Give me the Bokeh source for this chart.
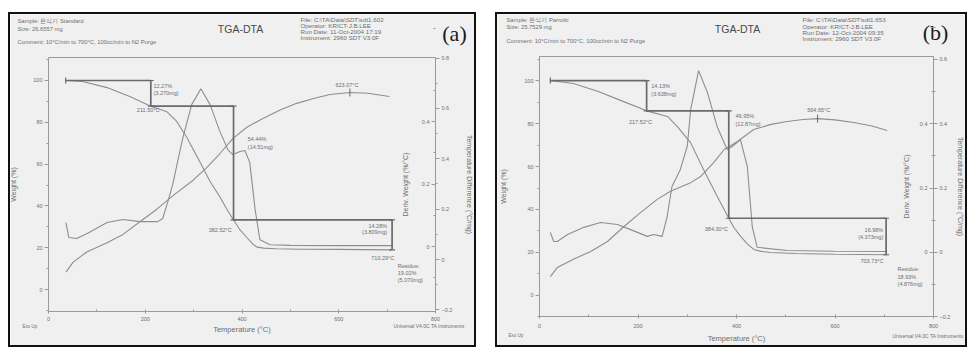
from bokeh.plotting import figure
from bokeh.models import Range1d, LinearAxis, FixedTicker, Spacer
from bokeh.layouts import row, column
from bokeh.embed import file_html
from bokeh.resources import INLINE
from bokeh.core.properties import value

FONT = "Liberation Sans"
SERIF = "Liberation Serif"
CURVE = "#8e8e8e"
ANNO = "#6a6a6a"
AXC = "#9a9a9a"
TXT = "#6e6e6e"
BG = "#f0f0f0"

# ---------------- panel (a) data ----------------
a_tga_T = [36, 71, 121, 168, 211.5, 245, 265, 286, 313, 334, 355, 369, 382.5, 396, 410, 422, 431, 445, 470, 520, 600, 650, 710]
a_tga_W = [100.0, 99.5, 96.6, 92.3, 87.7, 85.0, 80.4, 72.7, 61.0, 51.7, 44.0, 38.3, 33.3, 28.5, 24.9, 21.8, 20.3, 19.8, 19.5, 19.3, 19.2, 19.1, 19.0]
a_dtg_T = [36, 42, 58, 80, 121, 154, 189, 226, 236, 246, 257, 268, 278, 296, 315, 334, 354, 371, 381, 396, 406, 416, 427, 437, 458, 500, 600, 710]
a_dtg_D = [0.077, 0.029, 0.026, 0.042, 0.077, 0.087, 0.080, 0.080, 0.090, 0.14, 0.20, 0.28, 0.35, 0.455, 0.506, 0.455, 0.37, 0.31, 0.295, 0.305, 0.308, 0.27, 0.12, 0.022, 0.006, 0.004, 0.003, 0.003]
a_dta_T = [36, 51, 79, 121, 154, 189, 224, 258, 299, 327, 354, 381, 410, 443, 480, 513, 550, 582, 623.07, 660, 705]
a_dta_D = [-0.05, -0.01, 0.03, 0.067, 0.10, 0.15, 0.20, 0.255, 0.315, 0.365, 0.42, 0.48, 0.525, 0.56, 0.595, 0.62, 0.64, 0.655, 0.663, 0.66, 0.647]
a_step_T = [35.5, 211.50, 382.52, 710.29]
a_step_W = [100.0, 87.73, 33.29, 19.01]
a_peak = (623.07, 0.663, "623.07°C", 617, 0.694)
a_left_txt = ["12.27%", "(3.270mg)", "54.44%", "(14.51mg)", "Residue:", "19.02%", "(5.070mg)"]
a_left_x = [217, 217, 412, 412, 722, 722, 722]
a_left_y = [97.6, 93.8, 71.8, 68.2, 11.5, 8.1, 4.8]
a_ctr_txt = ["211.50°C", "382.52°C", "710.29°C"]
a_ctr_x = [206, 355, 691]
a_ctr_y = [86.1, 28.7, 15.1]
a_rgt_txt = ["14.28%", "(3.809mg)"]
a_rgt_x = [700, 700]
a_rgt_y = [30.6, 27.3]
a_header = ["Sample: 은식기 Standard", "Size: 26.6557 mg",
            "Comment: 10°C/min to 700°C, 100cc/min to N2 Purge"]
a_info = ["File: C:\\TA\\Data\\SDT\\sdt1.602", "Operator: KRICT-J.B.LEE",
          "Run Date: 11-Oct-2004 17:19", "Instrument: 2960 SDT V3.0F"]
a_w_range = (-10.5, 111.0)
a_d_range = (-0.208, 0.606)
a_t_range = (-0.206, 0.802)
a_temp_ticks = [-0.2, 0.0, 0.2, 0.4, 0.6, 0.8]
a_deriv_ticks = [0.0, 0.2, 0.4]

# ---------------- panel (b) data ----------------
b_tga_T = [22, 69, 118, 171, 217.5, 260, 280, 307, 333, 361, 384.3, 395, 408, 422, 435, 450, 469, 520, 600, 704]
b_tga_W = [100.0, 98.6, 95.0, 90.2, 85.9, 83.3, 78.6, 71.0, 58.6, 46.0, 35.9, 31.5, 27.6, 24.0, 21.4, 20.5, 20.0, 19.5, 19.2, 18.95]
b_dtg_T = [22, 29, 36, 57, 90, 124, 158, 185, 219, 232, 249, 259, 269, 286, 300, 307, 323, 341, 361, 381, 392, 408, 422, 432, 442, 503, 600, 706]
b_dtg_D = [0.062, 0.034, 0.034, 0.056, 0.078, 0.093, 0.087, 0.071, 0.050, 0.056, 0.050, 0.11, 0.205, 0.258, 0.33, 0.444, 0.565, 0.497, 0.39, 0.32, 0.33, 0.351, 0.267, 0.08, 0.016, 0.006, 0.004, 0.003]
b_dta_T = [22, 36, 70, 104, 138, 171, 205, 239, 266, 307, 327, 354, 375, 402, 435, 470, 503, 535, 564.65, 600, 638, 675, 706]
b_dta_D = [-0.075, -0.047, -0.02, 0.003, 0.034, 0.08, 0.124, 0.165, 0.19, 0.217, 0.236, 0.28, 0.32, 0.345, 0.382, 0.398, 0.407, 0.413, 0.416, 0.412, 0.404, 0.393, 0.379]
b_step_T = [22, 217.52, 384.30, 703.73]
b_step_W = [100.0, 85.87, 35.92, 18.94]
b_peak = (564.65, 0.416, "564.65°C", 567, 0.442)
b_left_txt = ["14.13%", "(3.638mg)", "49.95%", "(12.87mg)", "Residue:", "18.93%", "(4.876mg)"]
b_left_x = [227, 227, 398, 398, 727, 727, 727]
b_left_y = [97.3, 93.8, 83.4, 80.0, 12.1, 8.7, 5.1]
b_ctr_txt = ["217.52°C", "384.30°C", "703.73°C"]
b_ctr_x = [205, 359, 675]
b_ctr_y = [80.5, 30.7, 16.0]
b_rgt_txt = ["16.98%", "(4.373mg)"]
b_rgt_x = [698, 698]
b_rgt_y = [30.4, 27.1]
b_header = ["Sample: 은식기 Parrolic", "Size: 25.7529 mg",
            "Comment: 10°C/min to 700°C, 100cc/min to N2 Purge"]
b_info = ["File: C:\\TA\\Data\\SDT\\sdt1.653", "Operator: KRICT-J.B.LEE",
          "Run Date: 12-Oct-2004 09:35", "Instrument: 2960 SDT V3.0F"]
b_w_range = (-9.8, 111.2)
b_d_range = (-0.199, 0.609)
b_t_range = (-0.199, 0.609)
b_temp_ticks = [-0.2, 0.0, 0.2, 0.4, 0.6]
b_deriv_ticks = [0.0, 0.2, 0.4]

x_ticks = [0, 200, 400, 600, 800]
x_minor = [100, 300, 500, 700]
w_ticks = [0, 20, 40, 60, 80, 100]
w_minor = [-10, 10, 30, 50, 70, 90, 110]
d_minor = [-0.1, 0.1, 0.3, 0.5, 0.7]


def style_axis(ax, label, ticks, minor, std, lstd, tout=4, tin=0):
    ax.ticker = FixedTicker(ticks=ticks, minor_ticks=minor)
    ax.axis_label = label
    ax.axis_label_text_font = FONT
    ax.axis_label_text_font_size = "7px"
    ax.axis_label_text_font_style = "normal"
    ax.axis_label_text_color = TXT
    ax.axis_label_standoff = std
    ax.major_label_text_font = FONT
    ax.major_label_text_font_size = "5.5px"
    ax.major_label_text_color = TXT
    ax.major_label_standoff = lstd
    ax.axis_line_color = AXC
    ax.major_tick_line_color = AXC
    ax.minor_tick_line_color = AXC
    ax.major_tick_out = tout
    ax.major_tick_in = tin
    ax.minor_tick_out = max(tout - 2, 0)
    ax.minor_tick_in = tin


def build(fig_box, plot_box, wr, dr, tr, tga_T, tga_W, dtg_T, dtg_D, dta_T, dta_D,
          step_T, step_W, peak, lt, lx, ly, ct, cx, cy, rt, rx, ry,
          header, info, temp_ticks, deriv_ticks, tag, pos, stds):
    fx0, fy0, fw, fh = fig_box
    L, R, Tp, B = plot_box
    sx = (R - L) / 800.0

    def ext(r):
        s = (B - Tp) / (r[1] - r[0])
        return Range1d(r[0] - (fy0 + fh - B) / s, r[1] + (Tp - fy0) / s)

    sy = (B - Tp) / (wr[1] - wr[0])

    def X(px):
        return (px - L) / sx

    def Y(py):
        return wr[1] - (py - Tp) / sy

    p = figure(width=fw, height=fh,
               x_range=Range1d((fx0 - L) / sx, (fx0 + fw - L) / sx), y_range=ext(wr),
               x_axis_type=None, y_axis_type=None,
               output_backend="svg", toolbar_location=None,
               min_border_left=0, min_border_right=0, min_border_top=0, min_border_bottom=0,
               background_fill_color=BG, border_fill_color=BG, outline_line_color=None)
    p.grid.visible = False
    p.extra_y_ranges = {"deriv": ext(dr), "temp": ext(tr)}

    xax = LinearAxis(fixed_location=wr[0], bounds=(0, 800))
    style_axis(xax, "Temperature (°C)", x_ticks, x_minor, stds[0], stds[1], tout=2, tin=2)
    xax.axis_label_text_font_size = "7.5px"
    p.add_layout(xax, "below")

    top = LinearAxis(fixed_location=wr[1], bounds=(0, 800), ticker=FixedTicker(ticks=[]),
                     axis_line_color=AXC, major_label_text_font_size="0px")
    p.add_layout(top, "above")

    wax = LinearAxis(fixed_location=0, bounds=wr)
    style_axis(wax, "Weight (%)", w_ticks, w_minor, stds[2], 2)
    p.add_layout(wax, "left")

    dax = LinearAxis(y_range_name="deriv", fixed_location=800, bounds=dr)
    style_axis(dax, "Deriv. Weight (%/°C)", deriv_ticks, d_minor, stds[3], 2)
    p.add_layout(dax, "left")

    tax = LinearAxis(y_range_name="temp", fixed_location=800, bounds=tr)
    style_axis(tax, "Temperature Difference (°C/mg)", temp_ticks, d_minor, stds[4], 2)
    p.add_layout(tax, "right")

    p.line(tga_T, tga_W, color=CURVE, line_width=1.1)
    p.line(dtg_T, dtg_D, y_range_name="deriv", color=CURVE, line_width=1.1)
    p.line(dta_T, dta_D, y_range_name="temp", color=CURVE, line_width=1.1)

    sxs = [step_T[0], step_T[1], step_T[1], step_T[2], step_T[2], step_T[3], step_T[3]]
    sys_ = [step_W[0], step_W[0], step_W[1], step_W[1], step_W[2], step_W[2], step_W[3]]
    p.line(sxs, sys_, color=ANNO, line_width=1.7)
    p.scatter(sxs[1:], sys_[1:], marker="dash", size=6, line_color=ANNO, line_width=1.2)
    p.scatter([sxs[0]], [sys_[0]], marker="dash", angle=1.5708, size=6, line_color=ANNO, line_width=1.2)

    p.scatter([peak[0]], [peak[1]], y_range_name="temp", marker="dash", angle=1.5708,
              size=8, line_color=ANNO, line_width=1)
    p.text([peak[3]], [peak[4]], text=[peak[2]], y_range_name="temp",
           text_font=value(FONT), text_font_size="5.5px", text_color=TXT,
           text_align="center", text_baseline="middle")

    kw = dict(text_font=value(FONT), text_font_size="5.5px", text_color=TXT, text_baseline="middle")
    p.text(lx, ly, text=lt, text_align="left", **kw)
    p.text(cx, cy, text=ct, text_align="center", **kw)
    p.text(rx, ry, text=rt, text_align="right", **kw)

    def lab(px, py, txt, size, color=TXT, align="left", font=FONT):
        p.text([X(px)], [Y(py)], text=[txt], text_font=value(font), text_font_size=size,
               text_color=color, text_align=align, text_baseline="middle")

    hx, hy = pos["head"]
    for t, yy in zip(header, hy):
        lab(hx, yy, t, "5.8px")
    ix, iy = pos["info"]
    for t, yy in zip(info, iy):
        lab(ix, yy, t, "6.2px")
    lab(pos["title"][0], pos["title"][1], "TGA-DTA", "10.5px", color="#4a4a4a", align="center")
    lab(pos["tag"][0], pos["tag"][1], tag, "22px", color="#1a1a1a", align="center", font=SERIF)
    lab(pos["exo"][0], pos["exo"][1], "Exo Up", "4.5px")
    lab(pos["univ"][0], pos["univ"][1], "Universal V4.0C TA Instruments", "5px")
    return p


pa = build((10, 15, 464, 331), (48, 435, 58, 312),
           a_w_range, a_d_range, a_t_range,
           a_tga_T, a_tga_W, a_dtg_T, a_dtg_D, a_dta_T, a_dta_D,
           a_step_T, a_step_W, a_peak,
           a_left_txt, a_left_x, a_left_y, a_ctr_txt, a_ctr_x, a_ctr_y,
           a_rgt_txt, a_rgt_x, a_rgt_y, a_header, a_info,
           a_temp_ticks, a_deriv_ticks, "(a)",
           {"head": (17, [21.5, 29, 42.5]), "info": (300, [20, 26, 32, 38]),
            "title": (240, 29), "tag": (454, 34), "exo": (22, 327), "univ": (393, 326)},
           (1, 3, 13, 10, 11))

pb = build((497, 15, 468, 331), (539, 933, 57, 317),
           b_w_range, b_d_range, b_t_range,
           b_tga_T, b_tga_W, b_dtg_T, b_dtg_D, b_dta_T, b_dta_D,
           b_step_T, b_step_W, b_peak,
           b_left_txt, b_left_x, b_left_y, b_ctr_txt, b_ctr_x, b_ctr_y,
           b_rgt_txt, b_rgt_x, b_rgt_y, b_header, b_info,
           b_temp_ticks, b_deriv_ticks, "(b)",
           {"head": (506, [20.5, 27.5, 41.5]), "info": (802, [20, 26.5, 32.5, 38.5]),
            "title": (737, 29), "tag": (935, 33), "exo": (508, 336), "univ": (892, 336)},
           (3, 5, 14, 7, 4))

box = {"border": "2px solid #111"}
ca = column(pa, styles=box)
cb = column(pb, styles=box)
layout = column(Spacer(height=12), row(Spacer(width=8), row(ca, cb, spacing=19)))

open("out.html", "w").write(file_html(layout, INLINE))
